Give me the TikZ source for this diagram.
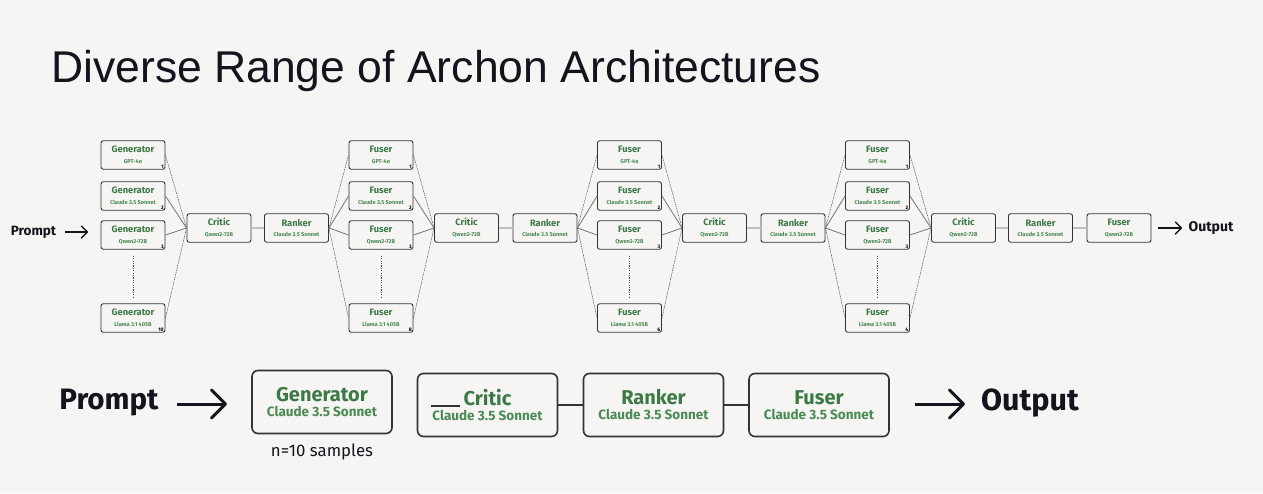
\documentclass[tikz,border=0pt]{standalone}
\usepackage{fontspec}
\setmainfont{Liberation Sans}
\newfontfamily\bxf{Fira Sans}
\usetikzlibrary{arrows.meta,calc}
\definecolor{bg}{HTML}{F6F5F3}
\definecolor{gr}{HTML}{3B7A45}
\definecolor{gr2}{HTML}{4A8A53}
\definecolor{bd}{HTML}{333333}
\definecolor{ink}{HTML}{14141E}
\newcommand\ttl[2]{{\fontsize{9.3}{9}\selectfont\bfseries\color{gr}#1}\\[-1.2pt]{\fontsize{5.6}{6}\selectfont\bfseries\color{gr2}#2}}
\newcommand\btl[2]{{\fontsize{20}{20}\selectfont\bfseries\color{gr}#1}\\[3pt]{\fontsize{13.5}{13}\selectfont\bfseries\color{gr2}#2}}
\newcommand\mkcol[4]{%
  \node[tb] (#1a) at (#2,155) {\ttl{#3}{GPT-4o}};
  \node[tb] (#1b) at (#2,196) {\ttl{#3}{Claude 3.5 Sonnet}};
  \node[tb] (#1c) at (#2,235) {\ttl{#3}{Qwen2-72B}};
  \node[tb] (#1d) at (#2,318) {\ttl{#3}{Llama 3.1 405B}};
  \node[idx] at ($(#1a.south east)+(-1.6,-1.4)$) {1};
  \node[idx] at ($(#1b.south east)+(-1.6,-1.4)$) {2};
  \node[idx] at ($(#1c.south east)+(-1.6,-1.4)$) {3};
  \node[idx] at ($(#1d.south east)+(-1.6,-1.4)$) {#4};
  \coordinate (#1t) at ($(#1c.south)+(0,6)$);
  \coordinate (#1u) at ($(#1d.north)+(0,-5)$);
  \draw[vdots] (#1t) -- (#1u);
}
\newcommand\fanin[2]{%
  \draw[dashc] (#1a.east) -- (#2.west);
  \draw[solidc] (#1b.east) -- (#2.west);
  \draw[solidc] (#1c.east) -- (#2.west);
  \draw[dashc] (#1d.east) -- (#2.west);
}
\newcommand\fanout[2]{%
  \draw[dashc] (#1.east) -- (#2a.west);
  \draw[solidc] (#1.east) -- (#2b.west);
  \draw[solidc] (#1.east) -- (#2c.west);
  \draw[dashc] (#1.east) -- (#2d.west);
}
\begin{document}
\begin{tikzpicture}[x=1pt,y=-1pt,
  tb/.style={draw=bd, line width=0.9pt, rounded corners=2.2pt, fill=bg, minimum width=64pt, minimum height=28.5pt, inner sep=0pt, align=center, font=\bxf},
  bb/.style={draw=bd, line width=1.6pt, rounded corners=6pt, fill=bg, minimum width=140pt, minimum height=63pt, inner sep=0pt, align=center, font=\bxf},
  idx/.style={font=\bxf\bfseries\fontsize{5}{5}\selectfont, text=black, inner sep=0pt, anchor=south east},
  solidc/.style={draw=black!50, line width=0.9pt},
  dashc/.style={draw=black!70, line width=0.5pt, dash pattern=on 1.4pt off 0.9pt},
  linkc/.style={draw=black!25, line width=1.4pt},
  vdots/.style={draw=black!70, line width=0.8pt, dash pattern=on 1.2pt off 1.2pt},
  blink/.style={draw=bd, line width=1.4pt},
  bigarrow/.style={draw=ink, line width=3pt, -{Straight Barb[length=14pt,width=28pt,round]}},
  smallarrow/.style={draw=ink, line width=1.4pt, -{Straight Barb[length=6pt,width=12pt,round]}},
  lbl/.style={text=ink, inner sep=0pt, font=\bxf\bfseries}
]
\fill[bg] (0,0) rectangle (1263,493);
\useasboundingbox (0,0) rectangle (1263,493);

% title
\node[anchor=base west, inner sep=0pt, text=ink, font=\fontsize{44.5}{44}\selectfont] (title) at (51,82) {Diverse Range of Archon Architectures};

% ---------- top row ----------
\node[lbl, font=\bxf\bfseries\fontsize{13.5}{14}\selectfont] (tp) at (33.5,232) {Prompt};
\coordinate (tpa) at (65,232);
\coordinate (tpb) at (88,232);
\draw[smallarrow] (tpa) -- (tpb);

\mkcol{g}{133}{Generator}{10}
\node[tb] (c1) at (219,228) {\ttl{Critic}{Qwen2-72B}};
\node[tb] (r1) at (296.5,228) {\ttl{Ranker}{Claude 3.5 Sonnet}};
\mkcol{f}{381}{Fuser}{8}
\node[tb] (c2) at (466.5,228) {\ttl{Critic}{Qwen2-72B}};
\node[tb] (r2) at (545,228) {\ttl{Ranker}{Claude 3.5 Sonnet}};
\mkcol{h}{629.5}{Fuser}{6}
\node[tb] (c3) at (714.5,228) {\ttl{Critic}{Qwen2-72B}};
\node[tb] (r3) at (793,228) {\ttl{Ranker}{Claude 3.5 Sonnet}};
\mkcol{k}{877.5}{Fuser}{4}
\node[tb] (c4) at (963.5,228) {\ttl{Critic}{Qwen2-72B}};
\node[tb] (r4) at (1040.5,228) {\ttl{Ranker}{Claude 3.5 Sonnet}};
\node[tb] (ff) at (1119,228) {\ttl{Fuser}{Qwen2-72B}};

\fanin{g}{c1}
\draw[linkc] (c1) -- (r1);
\fanout{r1}{f}
\fanin{f}{c2}
\draw[linkc] (c2) -- (r2);
\fanout{r2}{h}
\fanin{h}{c3}
\draw[linkc] (c3) -- (r3);
\fanout{r3}{k}
\fanin{k}{c4}
\draw[linkc] (c4) -- (r4);
\draw[linkc] (r4) -- (ff);

\coordinate (toa) at (1158,228);
\coordinate (tob) at (1182,228);
\draw[smallarrow] (toa) -- (tob);
\node[lbl, font=\bxf\bfseries\fontsize{14}{14}\selectfont] (to) at (1211,228) {Output};

% ---------- bottom row ----------
\node[lbl, font=\bxf\bfseries\fontsize{29.5}{29}\selectfont] (bp) at (109,403) {Prompt};
\coordinate (bpa) at (177,404);
\coordinate (bpb) at (227,404);
\draw[bigarrow] (bpa) -- (bpb);

\node[bb] (bg) at (322,402) {\btl{Generator}{Claude 3.5 Sonnet}};
\node[text=ink, inner sep=0pt, font=\bxf\fontsize{16.8}{17}\selectfont] (ns) at (322,452) {n=10 samples};
\node[bb] (bc) at (487.5,405) {\btl{Critic}{Claude 3.5 Sonnet}};
\node[bb] (br) at (653.5,405) {\btl{Ranker}{Claude 3.5 Sonnet}};
\node[bb] (bf) at (819,405) {\btl{Fuser}{Claude 3.5 Sonnet}};
\draw[bd, line width=1.2pt] (431,406) -- (460,406);
\draw[blink] (bc) -- (br);
\draw[blink] (br) -- (bf);

\coordinate (boa) at (915,404);
\coordinate (bob) at (965,404);
\draw[bigarrow] (boa) -- (bob);
\node[lbl, font=\bxf\bfseries\fontsize{30.5}{30}\selectfont] (bo) at (1030,403) {Output};
\end{tikzpicture}
\end{document}
